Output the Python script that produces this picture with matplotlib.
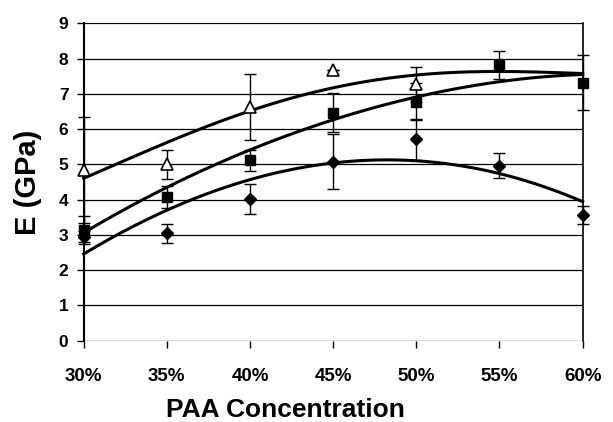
import numpy as np
import matplotlib.pyplot as plt

plt.rcParams['font.family'] = ['Liberation Sans', 'DejaVu Sans']
plt.rcParams['font.weight'] = 'bold'

conc = [30, 35, 40, 45, 50, 55, 60]
tick_labels = ['30%', '35%', '40%', '45%', '50%', '55%', '60%']

# measured modulus (GPa) with error bars
tri_x = [30, 35, 40, 45, 50]
tri_y = [4.84, 5.0, 6.63, 7.67, 7.27]
tri_err = [1.5, 0.42, 0.93, 0.0, 0.5]

sq_x = [30, 35, 40, 45, 50, 55, 60]
sq_y = [3.15, 4.08, 5.12, 6.47, 6.78, 7.82, 7.32]
sq_err = [0.4, 0.32, 0.3, 0.55, 0.52, 0.4, 0.77]

dia_x = [30, 35, 40, 45, 50, 55, 60]
dia_y = [2.95, 3.04, 4.01, 5.07, 5.71, 4.96, 3.56]
dia_err = [0.15, 0.26, 0.43, 0.78, 0.59, 0.36, 0.26]

# trend lines, read at each concentration
tri_trend = [4.6, 5.64, 6.49, 7.18, 7.55, 7.62, 7.58]
sq_trend = [3.06, 4.35, 5.41, 6.26, 6.92, 7.34, 7.55]
dia_trend = [2.46, 3.7, 4.56, 5.06, 5.08, 4.75, 3.94]

fig = plt.figure(figsize=(6.13, 4.22), dpi=100)
ax = fig.add_axes([0.1365, 0.1927, 0.814, 0.752])

xs = np.linspace(30, 60, 200)
for trend in (tri_trend, sq_trend, dia_trend):
    coef = np.polyfit(conc, trend, 4)
    ax.plot(xs, np.polyval(coef, xs), color='black', lw=2.2, zorder=3, clip_on=False)

eb = dict(fmt='none', ecolor='black', elinewidth=1.0, capsize=4, capthick=1.0,
          zorder=4, clip_on=False)
ax.errorbar(dia_x, dia_y, yerr=dia_err, **eb)
ax.errorbar(sq_x, sq_y, yerr=sq_err, **eb)
ax.errorbar(tri_x, tri_y, yerr=tri_err, **eb)

ax.plot(dia_x, dia_y, 'D', color='black', ms=6.5, ls='none', zorder=5, clip_on=False)
ax.plot(sq_x, sq_y, 's', color='black', ms=7.5, ls='none', zorder=5, clip_on=False)
ax.plot(tri_x, tri_y, '^', mfc='white', mec='black', mew=1.2, ms=8.5, ls='none',
        zorder=5, clip_on=False)

ax.set_xlim(30, 60)
ax.set_ylim(0, 9)
ax.set_xticks(conc)
ax.set_xticklabels(tick_labels)
ax.set_yticks(range(10))
ax.yaxis.grid(True, color='black', lw=0.9)
ax.set_axisbelow(True)

for side in ('top', 'bottom'):
    ax.spines[side].set_visible(False)
ax.spines['left'].set_linewidth(1.5)
ax.spines['right'].set_linewidth(1.2)

ax.tick_params(axis='x', direction='out', length=5, width=1, pad=15, labelsize=13.5)
ax.tick_params(axis='y', direction='out', length=5, width=1, pad=6, labelsize=12.5)

ax.set_xlabel('PAA Concentration', fontsize=19, fontweight='bold', labelpad=9)
ax.xaxis.label.set_x(0.405)
ax.set_ylabel('E (GPa)', fontsize=21, fontweight='bold', labelpad=12)

fig.savefig('out.png', dpi=100)
